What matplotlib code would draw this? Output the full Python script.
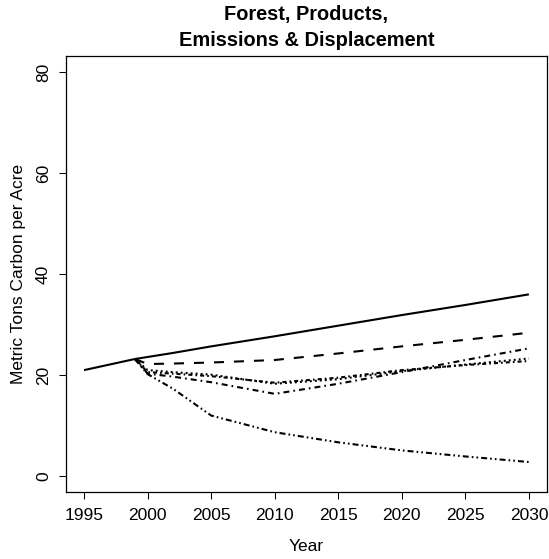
import matplotlib
matplotlib.use("Agg")
import matplotlib.pyplot as plt

plt.rcParams['font.family'] = ['Liberation Sans', 'DejaVu Sans']
plt.rcParams['lines.scale_dashes'] = False

# history, shared by all scenarios
hist_years = [1995, 1999]
hist_vals = [21.0, 23.2]

# projections from 1999
proj_years = [1999, 2000, 2002, 2005, 2010, 2015, 2020, 2025, 2030]
solid_vals = [23.2, 23.6, 24.4, 25.7, 27.7, 29.8, 31.9, 33.9, 36.0]
dashed_vals = [23.2, 22.2, 22.3, 22.5, 23.0, 24.3, 25.7, 27.0, 28.4]
dotdash_vals = [23.2, 20.3, 19.7, 18.6, 16.3, 18.3, 20.6, 23.0, 25.3]
dotted_a_vals = [23.2, 21.0, 20.6, 20.1, 18.3, 19.2, 20.8, 22.1, 23.3]
dotted_b_vals = [23.2, 20.6, 20.3, 19.8, 18.5, 19.5, 21.0, 22.0, 22.8]
twodash_vals = [23.2, 20.2, 17.3, 12.0, 8.7, 6.7, 5.1, 3.9, 2.8]

x_ticks = [1995, 2000, 2005, 2010, 2015, 2020, 2025, 2030]
y_ticks = [0, 20, 40, 60, 80]

lw = 1.5
fig = plt.figure(figsize=(5.49, 5.59), dpi=100)
ax = fig.add_axes([0.1208, 0.1193, 0.875, 0.7805])

ax.plot(hist_years, hist_vals, color='black', lw=lw, solid_capstyle='butt')
ax.plot(proj_years, solid_vals, color='black', lw=lw, solid_capstyle='butt')
ax.plot(proj_years, dashed_vals, color='black', lw=lw, dashes=(7.2, 7.2))
ax.plot(proj_years, dotdash_vals, color='black', lw=lw, dashes=(4.3, 2.9, 1.2, 2.9))
ax.plot(proj_years, dotted_a_vals, color='black', lw=lw, dashes=(1.4, 2.2))
ax.plot(proj_years, dotted_b_vals, color='black', lw=lw, dashes=(2.9, 2.2, 1.2, 2.2))
ax.plot(proj_years, twodash_vals, color='black', lw=lw, dashes=(4.3, 2.2, 1.2, 2.2, 1.2, 2.2))

ax.set_xlim(1995 - 0.04 * 35, 2030 + 0.04 * 35)
ax.set_ylim(-0.04 * 80, 80 * 1.04)
ax.set_xticks(x_ticks)
ax.set_yticks(y_ticks)
ax.set_yticklabels([str(v) for v in y_ticks], rotation=90, va='center')
ax.tick_params(direction='out', length=5, width=0.75, labelsize=12.5, pad=6, colors='black')
for s in ax.spines.values():
    s.set_linewidth(0.9)

ax.set_xlabel("Year", fontsize=12.5, labelpad=12)
ax.set_ylabel("Metric Tons Carbon per Acre", fontsize=12.5, labelpad=7)
ax.set_title("Forest, Products,\nEmissions & Displacement", fontsize=14.4,
             fontweight='bold', linespacing=1.5, pad=7)

fig.savefig("out.png", dpi=100)
